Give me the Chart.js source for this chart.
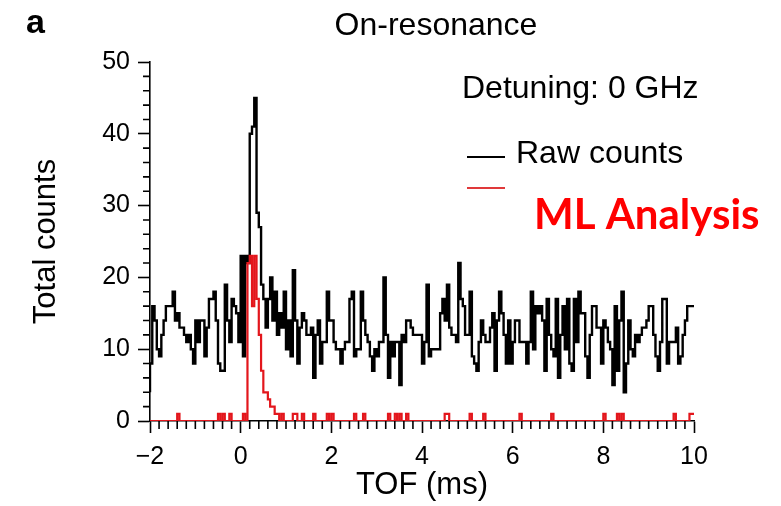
<!DOCTYPE html>
<html lang="en">
<head>
  <meta charset="UTF-8" />
  <title>On-resonance</title>
  <style>
    html, body { margin: 0; padding: 0; background: #fff; }
    #wrap { width: 781px; height: 506px; }
  </style>
</head>
<body>
  <div id="wrap">
    <canvas id="tofChart" width="781" height="506"></canvas>
  </div>
  <script src="https://cdn.jsdelivr.net/npm/chart.js"></script>
  <script>
    // TOF histogram, 0.05 ms bins from -2 to 10 ms (one row = 1 ms)
    const binStart = -2;
    const binWidth = 0.05;

    const rawCounts = [
      4, 8, 16, 14, 10, 9, 12, 14, 16, 16, 16, 18, 14, 15, 13, 13, 12, 11, 12, 10,
      8, 14, 11, 14, 14, 9, 13, 17, 17, 18, 14, 8, 7, 7, 19, 14, 11, 17, 16, 15,
      11, 23, 9, 23, 22, 40, 41, 45, 29, 27, 19, 17, 13, 17, 20, 14, 18, 12, 15, 13,
      18, 10, 14, 9, 21, 14, 8, 13, 15, 14, 12, 12, 13, 6, 12, 14, 8, 11, 11, 18,
      14, 14, 11, 10, 10, 8, 10, 11, 11, 17, 18, 9, 10, 10, 18, 14, 12, 11, 9, 7,
      10, 9, 11, 11, 20, 12, 6, 11, 9, 11, 11, 5, 12, 11, 14, 14, 13, 12, 12, 12,
      12, 8, 11, 19, 9, 10, 10, 10, 10, 15, 17, 14, 19, 13, 12, 12, 11, 22, 17, 16,
      12, 12, 18, 9, 8, 7, 11, 14, 12, 11, 11, 13, 15, 7, 14, 18, 15, 12, 8, 14,
      8, 11, 14, 14, 11, 11, 11, 8, 11, 18, 10, 16, 15, 16, 14, 7, 17, 12, 10, 9,
      17, 6, 12, 16, 10, 17, 8, 7, 17, 11, 18, 15, 15, 9, 6, 12, 16, 16, 13, 13,
      8, 14, 13, 11, 10, 5, 16, 7, 14, 18, 4, 8, 14, 10, 9, 12, 11, 12, 13, 13,
      14, 16, 16, 12, 9, 7, 11, 17, 17, 8, 11, 11, 11, 13, 8, 9, 12, 14, 16, 16
    ];

    const mlCounts = [
      0, 0, 0, 0, 0, 0, 0, 0, 0, 0, 0, 0, 0, 1, 0, 0, 0, 0, 0, 0,
      0, 0, 0, 0, 0, 0, 0, 0, 0, 0, 0, 1, 0, 1, 0, 0, 1, 0, 0, 0,
      0, 0, 1, 0, 22, 23, 16, 23, 17, 12, 7, 4, 4, 3, 2, 2, 1, 1, 0, 1,
      0, 0, 0, 0, 1, 1, 0, 0, 1, 0, 0, 0, 0, 1, 0, 0, 0, 0, 0, 1,
      0, 1, 0, 0, 0, 0, 0, 0, 0, 0, 0, 1, 0, 0, 0, 1, 0, 0, 0, 0,
      0, 0, 0, 0, 0, 0, 1, 0, 0, 1, 0, 1, 0, 0, 1, 0, 0, 0, 0, 0,
      0, 0, 0, 0, 0, 0, 0, 0, 0, 0, 0, 1, 1, 0, 0, 0, 0, 0, 0, 0,
      0, 0, 1, 0, 0, 0, 0, 0, 1, 0, 0, 0, 0, 0, 0, 0, 0, 0, 0, 0,
      0, 0, 0, 0, 1, 0, 0, 0, 0, 0, 0, 0, 0, 0, 0, 0, 0, 0, 1, 0,
      0, 0, 0, 0, 0, 0, 0, 0, 0, 0, 0, 0, 0, 0, 0, 0, 0, 0, 0, 0,
      0, 1, 0, 0, 0, 0, 0, 1, 0, 1, 0, 0, 0, 0, 0, 0, 0, 0, 0, 0,
      0, 0, 0, 0, 0, 0, 0, 0, 0, 0, 0, 0, 1, 0, 0, 0, 0, 0, 0, 1
    ];

    const xTicks = [-2, 0, 2, 4, 6, 8, 10];
    const yTicks = [0, 10, 20, 30, 40, 50];

    const FONT = '"Liberation Sans", Arial, Helvetica, sans-serif';

    // left bin edges -> stepped points, plus closing point at the last edge
    function toSteps(values) {
      const pts = values.map((v, i) => ({ x: binStart + i * binWidth, y: v }));
      pts.push({ x: binStart + values.length * binWidth, y: values[values.length - 1] });
      return pts;
    }

    // minor ticks, panel letter, title, legend and the label box
    const overlay = {
      id: 'overlay',
      afterDraw(chart) {
        const ctx = chart.ctx;
        const xs = chart.scales.x;
        const ys = chart.scales.y;
        ctx.save();

        ctx.strokeStyle = '#000';
        ctx.lineWidth = 1.6;
        ctx.beginPath();
        for (let k = 0; k <= 60; k++) {
          if (k % 10 === 0) continue;
          const px = xs.getPixelForValue(xTicks[0] + k * 0.2);
          ctx.moveTo(px, ys.bottom);
          ctx.lineTo(px, ys.bottom + 8);
        }
        for (let v = 0; v <= 50; v += 2) {
          if (v % 10 === 0) continue;
          const py = ys.getPixelForValue(v);
          ctx.moveTo(xs.left - 7, py);
          ctx.lineTo(xs.left, py);
        }
        ctx.stroke();

        ctx.fillStyle = '#000';
        ctx.textBaseline = 'alphabetic';
        ctx.textAlign = 'left';
        ctx.font = 'bold 34px ' + FONT;
        ctx.fillText('a', 26, 33);

        ctx.textAlign = 'center';
        ctx.font = '32px ' + FONT;
        ctx.fillText('On-resonance', 436, 35);

        ctx.textAlign = 'left';
        ctx.font = '32px ' + FONT;
        ctx.fillText('Detuning: 0 GHz', 462, 98);

        ctx.lineWidth = 2;
        ctx.beginPath();
        ctx.moveTo(467, 157);
        ctx.lineTo(505, 157);
        ctx.stroke();
        ctx.font = '32px ' + FONT;
        ctx.fillText('Raw counts', 516, 163);

        ctx.strokeStyle = '#e0393a';
        ctx.beginPath();
        ctx.moveTo(467, 188);
        ctx.lineTo(505, 188);
        ctx.stroke();

        ctx.fillStyle = '#fff';
        ctx.fillRect(512, 177, 269, 64);
        ctx.fillStyle = '#ff0000';
        ctx.font = 'bold 42px Lato, "Open Sans", sans-serif';
        ctx.fillText('ML Analysis', 534, 229);

        ctx.restore();
      }
    };

    const ctx = document.getElementById('tofChart').getContext('2d');
    new Chart(ctx, {
      type: 'line',
      data: {
        datasets: [
          {
            label: 'ML',
            data: toSteps(mlCounts),
            borderColor: '#e3161c',
            borderWidth: 2.2,
            stepped: 'after',
            pointRadius: 0,
            fill: false,
            order: 0
          },
          {
            label: 'Raw counts',
            data: toSteps(rawCounts),
            borderColor: '#000',
            borderWidth: 2.4,
            stepped: 'after',
            pointRadius: 0,
            fill: false,
            order: 1
          }
        ]
      },
      options: {
        responsive: false,
        animation: false,
        events: [],
        layout: { padding: { top: 62, right: 87, left: 0, bottom: 0 } },
        plugins: {
          legend: { display: false },
          tooltip: { enabled: false }
        },
        scales: {
          x: {
            type: 'linear',
            min: xTicks[0],
            max: xTicks[xTicks.length - 1],
            afterFit: s => { s.height = 85; },
            afterBuildTicks: s => { s.ticks = xTicks.map(v => ({ value: v })); },
            border: { display: true, color: '#000', width: 1.6 },
            grid: { drawOnChartArea: false, drawTicks: true, tickLength: 12, tickColor: '#000', tickWidth: 1.6 },
            ticks: {
              color: '#000',
              padding: 9,
              maxRotation: 0,
              font: { family: FONT, size: 25 },
              callback: v => String(v).replace('-', '\u2212')
            },
            title: {
              display: true,
              text: 'TOF (ms)',
              color: '#000',
              padding: 2,
              font: { family: FONT, size: 31 }
            }
          },
          y: {
            min: yTicks[0],
            max: yTicks[yTicks.length - 1],
            afterFit: s => { s.width = 150; },
            afterBuildTicks: s => { s.ticks = yTicks.map(v => ({ value: v })); },
            border: { display: true, color: '#000', width: 1.6 },
            grid: { drawOnChartArea: false, drawTicks: true, tickLength: 12, tickColor: '#000', tickWidth: 1.6 },
            ticks: {
              color: '#000',
              padding: 8,
              font: { family: FONT, size: 25 }
            },
            title: {
              display: true,
              text: 'Total counts',
              color: '#000',
              padding: 28,
              font: { family: FONT, size: 31 }
            }
          }
        }
      },
      plugins: [overlay]
    });
  </script>
</body>
</html>
